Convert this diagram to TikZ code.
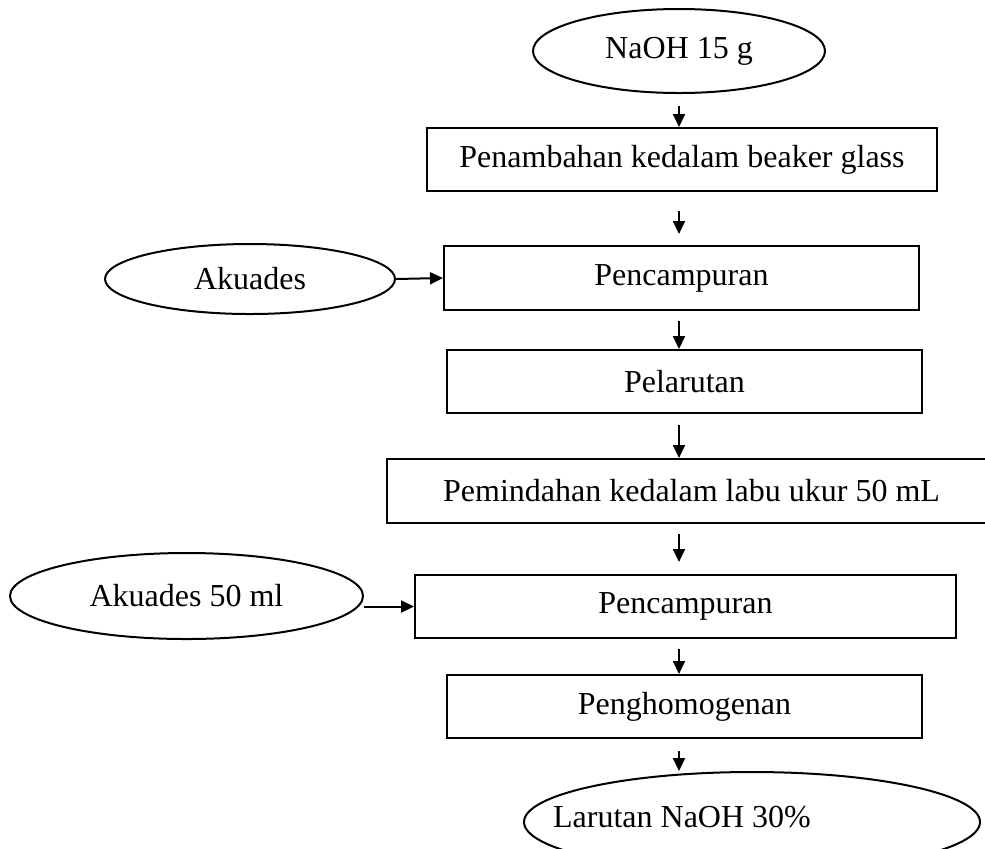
\documentclass[tikz,border=0pt]{standalone}
\usepackage{fontspec}
\setmainfont{Liberation Serif}
\usepackage{tikz}
\usetikzlibrary{shapes.geometric, arrows.meta}
\tikzset{
    bahan/.style={ellipse, draw, inner sep=0pt},
    proses/.style={rectangle, draw, inner sep=0pt},
    panah/.style={-{Triangle[length=6.5pt, width=6pt]}, line width=1pt}
}

\begin{document}
\begin{tikzpicture}[x=0.5pt, y=-0.5pt, line width=1pt, every node/.style={font=\fontsize{16pt}{19pt}\selectfont}]
            \useasboundingbox (0,0) rectangle (985,848);
            \clip (0,0) rectangle (985,848);
            \node (naoh) [bahan, minimum width=146pt, minimum height=42pt] at (679,51) {NaOH 15 g};
            \node (tambah) [proses, minimum width=255pt, minimum height=31.5pt] at (682,159.5) {Penambahan kedalam beaker glass};
            \node (campur1) [proses, minimum width=237.5pt, minimum height=32pt] at (681.5,278) {Pencampuran};
            \node (akuades) [bahan, minimum width=145pt, minimum height=35pt] at (250,279) {Akuades};
            \node (larut) [proses, minimum width=237.5pt, minimum height=31.5pt] at (684.5,381.5) {Pelarutan};
            \node (pindah) [proses, minimum width=304.5pt, minimum height=32pt] at (691.5,491) {Pemindahan kedalam labu ukur 50 mL};
            \node (campur2) [proses, minimum width=270.5pt, minimum height=31.5pt] at (685.5,606.5) {Pencampuran};
            \node (akuades50) [bahan, minimum width=176.5pt, minimum height=43pt] at (186.5,596) {Akuades 50 ml};
            \node (homogen) [proses, minimum width=237.5pt, minimum height=31.5pt] at (684.5,706.5) {Penghomogenan};
            \node (hasil) [bahan, minimum width=228pt, minimum height=50pt] at (752,822) {};
            \node (hasilteks) at (682,817) {Larutan NaOH 30\%};

            \draw[panah, shorten <=6pt] (naoh.south) -- (tambah.north -| naoh);
            \draw[panah, shorten <=9.5pt, shorten >=5.5pt] (tambah.south -| naoh) -- (campur1.north -| naoh);
            \draw[panah, shorten <=5pt] (campur1.south -| naoh) -- (larut.north -| naoh);
            \draw[panah, shorten <=5.5pt] (larut.south -| naoh) -- (pindah.north -| naoh);
            \draw[panah, shorten <=5pt, shorten >=6pt] (pindah.south -| naoh) -- (campur2.north -| naoh);
            \draw[panah, shorten <=5pt] (campur2.south -| naoh) -- (homogen.north -| naoh);
            \draw[panah, shorten <=6pt] (homogen.south -| naoh) -- (hasil.north -| naoh);

            \draw[panah] (akuades.east) -- (campur1.west);
            \draw[panah] (akuades50.east |- campur2.west) -- (campur2.west);
        \end{tikzpicture}
\end{document}
